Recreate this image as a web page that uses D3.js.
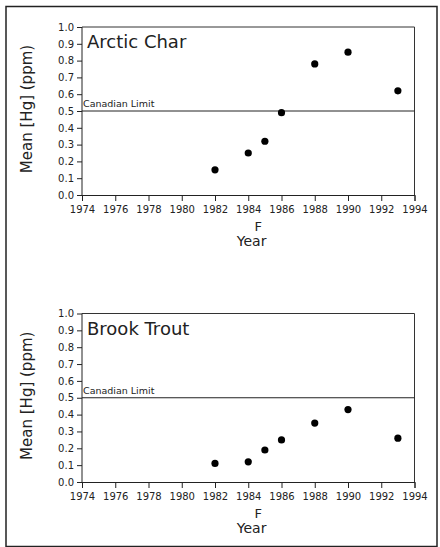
<!DOCTYPE html>
<html><head><meta charset="utf-8">
<script src="https://cdn.jsdelivr.net/npm/d3@7"></script>
<style>
html,body{margin:0;padding:0;background:#fff;}
svg text{font-family:"DejaVu Sans","Liberation Sans",sans-serif;fill:#222;}
</style></head>
<body>
<svg id="c" width="440" height="547"></svg>
<script>
const years = [1982, 1984, 1985, 1986, 1988, 1990, 1993];
const arcticChar = [0.15, 0.25, 0.32, 0.49, 0.78, 0.85, 0.62];
const brookTrout = [0.11, 0.12, 0.19, 0.25, 0.35, 0.43, 0.26];
const xTicks = [1974, 1976, 1978, 1980, 1982, 1984, 1986, 1988, 1990, 1992, 1994];
const yTicks = [0.0, 0.1, 0.2, 0.3, 0.4, 0.5, 0.6, 0.7, 0.8, 0.9, 1.0];
const panelTitles = ["Arctic Char", "Brook Trout"];
const limitValue = 0.5;
const limitLabel = "Canadian Limit";
const xTitle = "Year";
const yTitle = "Mean [Hg] (ppm)";

const svg = d3.select("#c");
// page border
svg.append("rect").attr("x",6).attr("y",6.5).attr("width",431).attr("height",540)
  .attr("fill","none").attr("stroke","#222").attr("stroke-width",1.5);

const panels = [
  {title: panelTitles[0], values: arcticChar, top: 27, bottom: 195},
  {title: panelTitles[1], values: brookTrout, top: 313.5, bottom: 482}
];
const left = 82, right = 414.5;
const x = d3.scaleLinear().domain([1974,1994]).range([left,right]);

panels.forEach(p => {
  const y = d3.scaleLinear().domain([0,1]).range([p.bottom,p.top]);
  const g = svg.append("g");
  g.append("path").attr("d",`M${left},${p.top}H${right}V${p.bottom}`)
    .attr("fill","none").attr("stroke","#333").attr("stroke-width",1);
  const ya = g.append("g").attr("transform",`translate(${left},0)`)
    .call(d3.axisLeft(y).tickValues(yTicks).tickFormat(d3.format(".1f")).tickSize(5).tickPadding(3));
  const xa = g.append("g").attr("transform",`translate(0,${p.bottom})`)
    .call(d3.axisBottom(x).tickValues(xTicks).tickFormat(d3.format("d")).tickSize(6).tickPadding(5));
  [ya,xa].forEach(a=>{
    a.selectAll("path,line").attr("stroke","#222").attr("stroke-width",1);
    a.selectAll("text").attr("font-size",10).attr("fill","#222")
      .style("font-family","'DejaVu Sans',sans-serif");
  });
  ya.select(".domain").attr("d",`M0,${p.bottom}V${p.top}`);
  g.append("line").attr("x1",left).attr("x2",right)
    .attr("y1",y(limitValue)).attr("y2",y(limitValue))
    .attr("stroke","#222").attr("stroke-width",1);
  g.append("text").attr("x",left+1).attr("y",y(limitValue)-4)
    .attr("font-size",9.5).text(limitLabel);
  g.append("text").attr("x",left+5).attr("y",p.top+21)
    .attr("font-size",18).text(p.title);
  g.selectAll("circle.pt").data(years.map((yr,i)=>({yr,v:p.values[i]})))
    .join("circle").attr("class","pt")
    .attr("cx",d=>x(d.yr)).attr("cy",d=>y(d.v)).attr("r",3.6).attr("fill","#000");
  g.append("text").attr("x",x(1984.6)).attr("y",p.bottom+36)
    .attr("text-anchor","middle").attr("font-size",13).text("F");
  g.append("text").attr("x",x(1984.2)).attr("y",p.bottom+51)
    .attr("text-anchor","middle").attr("font-size",14).text(xTitle);
  g.append("text")
    .attr("transform",`translate(32,${(p.top+p.bottom)/2 - 2}) rotate(-90)`)
    .attr("text-anchor","middle").attr("font-size",15).text(yTitle);
});
</script>
</body></html>
